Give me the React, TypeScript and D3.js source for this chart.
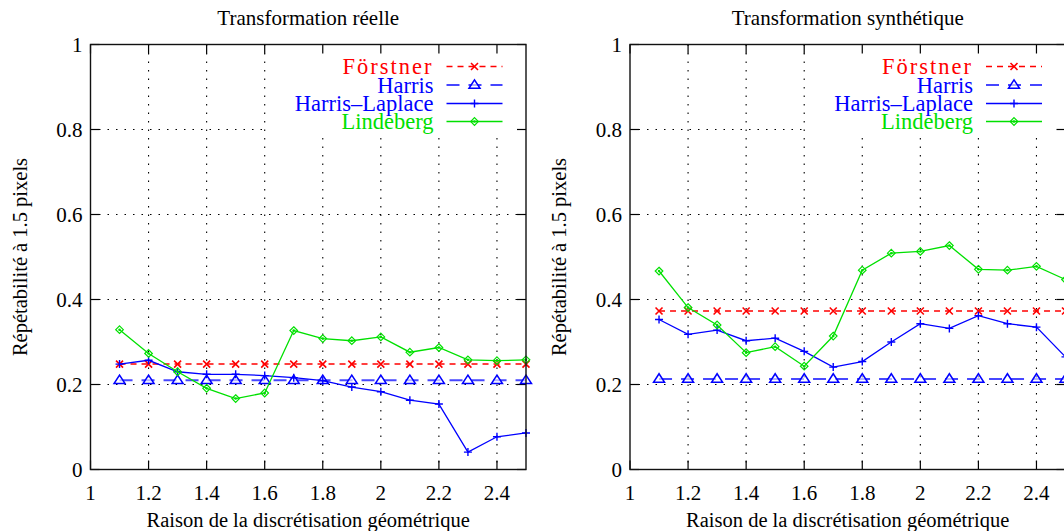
import React from "react";
import * as d3 from "d3";

const xValues = [1.1, 1.2, 1.3, 1.4, 1.5, 1.6, 1.7, 1.8, 1.9, 2.0, 2.1, 2.2, 2.3, 2.4, 2.5];
const xTicks = [1, 1.2, 1.4, 1.6, 1.8, 2, 2.2, 2.4];
const yTicks = [0, 0.2, 0.4, 0.6, 0.8, 1];

const reelleForstner = [0.248, 0.248, 0.248, 0.248, 0.248, 0.248, 0.248, 0.248, 0.248, 0.248, 0.248, 0.248, 0.248, 0.248, 0.248];
const reelleHarris = [0.21, 0.21, 0.21, 0.21, 0.21, 0.21, 0.21, 0.21, 0.21, 0.21, 0.21, 0.21, 0.21, 0.21, 0.21];
const reelleHarrisLaplace = [0.248, 0.257, 0.23, 0.224, 0.224, 0.221, 0.216, 0.209, 0.194, 0.183, 0.163, 0.154, 0.041, 0.077, 0.086];
const reelleLindeberg = [0.329, 0.273, 0.23, 0.191, 0.167, 0.18, 0.327, 0.308, 0.303, 0.312, 0.276, 0.287, 0.258, 0.256, 0.258];

const synthForstner = [0.373, 0.373, 0.373, 0.373, 0.373, 0.373, 0.373, 0.373, 0.373, 0.373, 0.373, 0.373, 0.373, 0.373, 0.373];
const synthHarris = [0.213, 0.213, 0.213, 0.213, 0.213, 0.213, 0.213, 0.213, 0.213, 0.213, 0.213, 0.213, 0.213, 0.213, 0.213];
const synthHarrisLaplace = [0.353, 0.318, 0.328, 0.303, 0.309, 0.278, 0.241, 0.254, 0.3, 0.343, 0.332, 0.362, 0.343, 0.335, 0.265];
const synthLindeberg = [0.467, 0.381, 0.34, 0.275, 0.289, 0.243, 0.314, 0.469, 0.509, 0.513, 0.527, 0.471, 0.469, 0.478, 0.447];

const seriesNames = ["Förstner", "Harris", "Harris–Laplace", "Lindeberg"];
const seriesColors = ["#ff0000", "#0000ff", "#0000ff", "#00e000"];

const panelTitles = ["Transformation réelle", "Transformation synthétique"];
const xLabel = "Raison de la discrétisation géométrique";
const yLabel = "Répétabilité à 1.5 pixels";

const FONT = "'Liberation Serif', 'Times New Roman', serif";

type Marker = "x" | "tri" | "plus" | "diamond";

function MarkerShape({ kind, x, y, color }: { kind: Marker; x: number; y: number; color: string }) {
  if (kind === "x") {
    const s = 3.5;
    return (
      <path d={`M${x - s},${y - s}L${x + s},${y + s}M${x - s},${y + s}L${x + s},${y - s}`} stroke={color} strokeWidth={1.6} fill="none" />
    );
  }
  if (kind === "plus") {
    const s = 4;
    return <path d={`M${x - s},${y}L${x + s},${y}M${x},${y - s}L${x},${y + s}`} stroke={color} strokeWidth={1.4} fill="none" />;
  }
  if (kind === "tri") {
    const s = 5.5;
    return (
      <path d={`M${x - s},${y + s * 0.6}L${x + s},${y + s * 0.6}L${x},${y - s * 0.95}Z`} stroke={color} strokeWidth={1.5} fill="white" fillOpacity={0.6} />
    );
  }
  const s = 3.8;
  return (
    <g>
      <path d={`M${x},${y - s}L${x + s},${y}L${x},${y + s}L${x - s},${y}Z`} stroke={color} strokeWidth={1.2} fill="none" />
      <circle cx={x} cy={y} r={1.3} fill={color} />
    </g>
  );
}

const markers: Marker[] = ["x", "tri", "plus", "diamond"];
const dashes = ["6,5", "13,9", "", ""];
const widths = [1.5, 2.2, 1.3, 1.3];

function Panel({ left, title, data }: { left: number; title: string; data: number[][] }) {
  const top = 44.5;
  const bottom = 469.5;
  const right = left + 435.5;
  const x = d3.scaleLinear().domain([1, 2.5]).range([left, right]);
  const y = d3.scaleLinear().domain([0, 1]).range([bottom, top]);
  const line = d3
    .line<number>()
    .x((_, i) => x(xValues[i]))
    .y((v) => y(v));

  const legendRight = left + 343;
  const legendRows = [top + 22, top + 40.5, top + 59, top + 77];
  const sampleX0 = left + 356;
  const sampleX1 = left + 412;
  const cx = (left + right) / 2;

  return (
    <g>
      {/* grid */}
      {xTicks.slice(1).map((t) => (
        <line key={"gx" + t} x1={x(t)} x2={x(t)} y1={top} y2={bottom} stroke="#000" strokeWidth={1.1} strokeDasharray="1.5,7" />
      ))}
      {yTicks.slice(1, -1).map((t) => (
        <line key={"gy" + t} x1={left} x2={right} y1={y(t)} y2={y(t)} stroke="#000" strokeWidth={1.1} strokeDasharray="1.5,7" />
      ))}
      {/* key blanking */}
      <rect x={left + 177} y={top} width={right - left - 177} height={91} fill="white" />
      {/* ticks */}
      {xTicks.map((t) => (
        <g key={"tx" + t}>
          <line x1={x(t)} x2={x(t)} y1={bottom} y2={bottom - 9} stroke="#000" strokeWidth={1.2} />
          <line x1={x(t)} x2={x(t)} y1={top} y2={top + 9} stroke="#000" strokeWidth={1.2} />
          <text x={x(t)} y={bottom + 30} textAnchor="middle" fontFamily={FONT} fontSize={21}>
            {d3.format("~g")(t)}
          </text>
        </g>
      ))}
      {yTicks.map((t) => (
        <g key={"ty" + t}>
          <line x1={left} x2={left + 9} y1={y(t)} y2={y(t)} stroke="#000" strokeWidth={1.2} />
          <line x1={right} x2={right - 9} y1={y(t)} y2={y(t)} stroke="#000" strokeWidth={1.2} />
          <text x={left - 8} y={y(t) + 7} textAnchor="end" fontFamily={FONT} fontSize={21}>
            {d3.format("~g")(t)}
          </text>
        </g>
      ))}
      {/* series */}
      {data.map((vals, si) => (
        <g key={"s" + si}>
          <path d={line(vals) || ""} fill="none" stroke={seriesColors[si]} strokeWidth={widths[si]} strokeDasharray={dashes[si] || undefined} opacity={si === 1 ? 0.72 : 1} />
          {vals.map((v, i) => (
            <MarkerShape key={i} kind={markers[si]} x={x(xValues[i])} y={y(v)} color={seriesColors[si]} />
          ))}
        </g>
      ))}
      {/* legend */}
      {seriesNames.map((n, si) => (
        <g key={"l" + si}>
          <text
            x={legendRight}
            y={legendRows[si] + 7.5}
            textAnchor="end"
            fontFamily={FONT}
            fontSize={22.5}
            fill={seriesColors[si]}
            letterSpacing={si === 0 ? 2 : 0}
          >
            {n}
          </text>
          <line x1={sampleX0} x2={sampleX1} y1={legendRows[si]} y2={legendRows[si]} stroke={seriesColors[si]} strokeWidth={widths[si]} strokeDasharray={dashes[si] || undefined} opacity={si === 1 ? 0.72 : 1} />
          <MarkerShape kind={markers[si]} x={(sampleX0 + sampleX1) / 2} y={legendRows[si]} color={seriesColors[si]} />
        </g>
      ))}
      {/* border */}
      <rect x={left} y={top} width={right - left} height={bottom - top} fill="none" stroke="#111" strokeWidth={1.4} />
      {/* labels */}
      <text x={cx} y={25} textAnchor="middle" fontFamily={FONT} fontSize={21}>
        {title}
      </text>
      <text x={cx} y={527} textAnchor="middle" fontFamily={FONT} fontSize={20.5}>
        {xLabel}
      </text>
      <text transform={`translate(${left - 64},${(top + bottom) / 2}) rotate(-90)`} textAnchor="middle" fontFamily={FONT} fontSize={20.5}>
        {yLabel}
      </text>
    </g>
  );
}

export default function App() {
  return (
    <svg width={1064} height={531} style={{ position: "absolute", left: 0, top: 0, background: "white" }}>
      <rect width={1064} height={531} fill="white" />
      <Panel left={90.5} title={panelTitles[0]} data={[reelleForstner, reelleHarris, reelleHarrisLaplace, reelleLindeberg]} />
      <Panel left={630} title={panelTitles[1]} data={[synthForstner, synthHarris, synthHarrisLaplace, synthLindeberg]} />
    </svg>
  );
}
